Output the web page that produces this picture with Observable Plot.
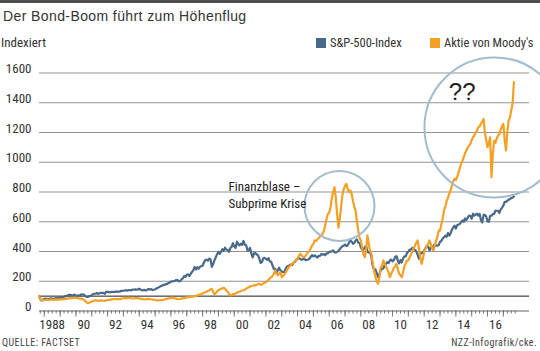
<!DOCTYPE html>
<html>
<head>
<meta charset="utf-8">
<script src="https://cdn.jsdelivr.net/npm/d3@7"></script>
<script src="https://cdn.jsdelivr.net/npm/@observablehq/plot@0.6"></script>
<style>
  html, body { margin: 0; padding: 0; background: #fff; }
  #wrap { position: relative; width: 540px; height: 351px; overflow: hidden;
          font-family: "Liberation Sans Narrow", "Roboto Condensed", "DejaVu Sans Condensed", sans-serif; color: #333; }
  #wrap svg { position: absolute; left: 0; top: 0; }
  .bar { position: absolute; left: 0; top: 0; width: 540px; height: 3px; background: #4e4e4e; }
  .title { position: absolute; left: 3px; top: 9px; font-family: "Liberation Sans", Arial, sans-serif;
           font-size: 14px; line-height: 14px; letter-spacing: 0.4px; color: #333; white-space: nowrap; }
  .sub { position: absolute; left: 1px; top: 36px; font-size: 13px; line-height: 14px; white-space: nowrap; }
  .legend { position: absolute; top: 36px; font-size: 12.5px; line-height: 14px; white-space: nowrap; display: flex; align-items: center; }
  .sw { display: inline-block; width: 10px; height: 10px; margin-right: 4px; }
  .foot { position: absolute; top: 337px; font-size: 10px; line-height: 12px; letter-spacing: 0.45px; color: #444; white-space: nowrap; }
</style>
</head>
<body>
<div id="wrap">
  <div class="bar"></div>
  <div class="title">Der Bond-Boom führt zum Höhenflug</div>
  <div class="sub">Indexiert</div>
  <div class="legend" id="leg1" style="left:316px"></div>
  <div class="legend" id="leg2" style="left:430px"></div>
  <div class="foot" style="left:2px">QUELLE: FACTSET</div>
  <div class="foot" style="right:3px">NZZ-Infografik/cke.</div>
</div>
<script>
// ---- data (monthly, indexed, starting September 1987) ----
const startYear = 1987;
const startMonth = 9;
const seriesNames = ["S&P-500-Index", "Aktie von Moody's"];
const seriesColors = ["#48698a", "#f4a024"];

const spx = [
  100, 78, 71, 77,                                   // 1987
  80, 83, 80, 81, 81, 85, 84, 81, 84, 87, 85, 86,    // 1988
  92, 90, 92, 96, 100, 99, 107, 109, 108, 106, 107, 110, // 1989
  102, 103, 106, 103, 112, 111, 111, 100, 95, 94, 100, 102, // 1990
  107, 114, 116, 116, 121, 115, 120, 123, 120, 122, 116, 130, // 1991
  127, 128, 125, 129, 129, 127, 132, 129, 130, 130, 134, 135, // 1992
  136, 138, 140, 137, 140, 140, 139, 144, 143, 145, 143, 145, // 1993
  150, 145, 139, 140, 142, 138, 142, 148, 144, 147, 141, 143, // 1994
  146, 151, 156, 160, 166, 169, 175, 175, 181, 181, 188, 191, // 1995
  198, 199, 200, 203, 208, 208, 199, 202, 213, 219, 235, 230, // 1996
  244, 246, 235, 249, 263, 275, 296, 279, 294, 284, 297, 301, // 1997
  304, 326, 342, 345, 339, 352, 348, 297, 316, 341, 361, 382, // 1998
  398, 384, 399, 415, 404, 426, 413, 410, 398, 423, 431, 456, // 1999
  433, 424, 466, 451, 441, 452, 444, 471, 446, 444, 408, 410, // 2000
  424, 385, 360, 388, 390, 380, 376, 352, 323, 329, 354, 357, // 2001
  351, 344, 356, 334, 331, 307, 283, 284, 253, 275, 291, 273, // 2002
  266, 261, 263, 285, 299, 303, 307, 313, 309, 326, 329, 345, // 2003
  351, 356, 350, 344, 348, 354, 342, 343, 346, 351, 365, 376, // 2004
  367, 374, 367, 359, 370, 370, 383, 379, 382, 375, 388, 388, // 2005
  398, 398, 402, 407, 394, 394, 397, 405, 415, 428, 435, 440, // 2006
  447, 437, 441, 460, 475, 467, 452, 458, 474, 481, 460, 456, // 2007
  428, 413, 411, 430, 435, 398, 393, 398, 362, 301, 278, 280, // 2008
  257, 228, 248, 271, 285, 285, 307, 317, 328, 322, 340, 346, // 2009
  334, 343, 363, 369, 338, 320, 342, 326, 354, 367, 367, 391, // 2010
  399, 412, 412, 424, 418, 410, 401, 379, 351, 389, 387, 391, // 2011
  407, 424, 437, 434, 407, 423, 428, 437, 448, 439, 440, 443, // 2012
  465, 470, 487, 496, 507, 499, 524, 507, 522, 546, 561, 574, // 2013
  554, 577, 581, 585, 598, 609, 600, 622, 612, 627, 642, 639, // 2014
  620, 654, 642, 648, 654, 641, 653, 612, 596, 646, 646, 635, // 2015
  602, 600, 640, 641, 651, 652, 675, 674, 673, 660, 683, 695, // 2016
  708, 734, 734, 740, 749, 752, 760, 762, 770                 // 2017
];

const moodys = [
  100, 80, 72, 75,                                   // 1987
  72, 74, 76, 74, 75, 78, 76, 74, 76, 78, 77, 76,    // 1988
  78, 80, 78, 80, 82, 81, 84, 86, 85, 86, 88, 90,    // 1989
  88, 86, 85, 82, 84, 80, 76, 68, 60, 52, 55, 60,    // 1990
  64, 68, 70, 72, 70, 68, 70, 72, 70, 69, 68, 72,    // 1991
  74, 76, 75, 78, 80, 79, 82, 80, 78, 80, 82, 84,    // 1992
  86, 88, 85, 87, 89, 88, 86, 84, 85, 87, 86, 85,    // 1993
  84, 82, 80, 81, 79, 78, 80, 82, 80, 79, 77, 76,    // 1994
  74, 72, 71, 72, 74, 73, 75, 77, 80, 82, 84, 86,    // 1995
  88, 90, 87, 85, 83, 80, 79, 81, 83, 85, 88, 90,    // 1996
  92, 94, 93, 96, 98, 97, 100, 102, 105, 108, 110, 114, // 1997
  118, 122, 126, 130, 134, 138, 145, 149, 130, 111, 120, 132, // 1998
  140, 145, 149, 152, 156, 150, 140, 128, 115, 104, 108, 112, // 1999
  115, 118, 122, 126, 130, 134, 138, 140, 145, 150, 155, 160, // 2000
  164, 168, 170, 174, 172, 176, 180, 183, 175, 178, 185, 190, // 2001
  195, 200, 210, 220, 228, 235, 250, 272, 255, 240, 250, 260, // 2002
  227, 235, 245, 260, 275, 290, 300, 310, 317, 325, 335, 340, // 2003
  350, 370, 385, 375, 365, 362, 370, 385, 395, 405, 420, 440, // 2004
  450, 474, 470, 480, 490, 500, 510, 519, 540, 580, 620, 653, // 2005
  660, 700, 760, 800, 832, 760, 650, 560, 620, 700, 780, 820, // 2006
  840, 855, 820, 800, 810, 788, 740, 700, 675, 600, 540, 490, // 2007
  474, 420, 380, 362, 420, 508, 450, 400, 385, 320, 272, 230, // 2008
  200, 183, 220, 295, 300, 340, 320, 300, 280, 260, 227, 250, // 2009
  270, 290, 300, 317, 280, 250, 240, 227, 260, 300, 320, 340, // 2010
  340, 362, 380, 400, 420, 440, 460, 474, 420, 360, 317, 350, // 2011
  400, 420, 440, 450, 474, 450, 420, 407, 440, 470, 500, 541, // 2012
  541, 580, 620, 675, 700, 740, 760, 788, 810, 840, 870, 890, // 2013
  880, 900, 930, 960, 990, 1010, 1034, 1060, 1080, 1100, 1110, 1124, // 2014
  1150, 1168, 1180, 1200, 1210, 1236, 1240, 1260, 1270, 1292, 1200, 1150, // 2015
  1101, 1130, 1168, 900, 1050, 1146, 1130, 1160, 1180, 1191, 1220, 1240, // 2016
  1258, 1150, 1079, 1200, 1281, 1300, 1350, 1393, 1538          // 2017
];

// axis ticks and labels
const yTicks = [0, 200, 400, 600, 800, 1000, 1200, 1400, 1600];
const labelYears = [1988, 1990, 1992, 1994, 1996, 1998, 2000, 2002, 2004, 2006, 2008, 2010, 2012, 2014, 2016];
const labelTexts = ["1988", "90", "92", "94", "96", "98", "00", "02", "04", "06", "08", "10", "12", "14", "16"];
const firstTickYear = 1988, lastTickYear = 2017;

// annotations
const noteTexts = ["Finanzblase –\nSubprime Krise", "??"];
const noteYears = [1999.64, 2014.4];
const noteValues = [788, 1471];
const circleYears = [2006.65, 2016.44];
const circleValues = [706, 1234];
const circleRadii = [35, 70];

// ---- build ----
const toTime = i => startYear + (startMonth - 1 + i) / 12;
const spxData = spx.map((v, i) => ({t: toTime(i), v}));
const moodysData = moodys.map((v, i) => ({t: toTime(i), v}));
const yearTicks = d3.range(firstTickYear, lastTickYear + 1);
const quarterTicks = d3.range((firstTickYear - 1) * 4 + 3, lastTickYear * 4 + 4).map(q => q / 4);
const labelPos = labelYears.map(y => y + 0.5);
const labelMap = new Map(labelPos.map((p, i) => [p, labelTexts[i]]));
const font = '"Liberation Sans Narrow", "Roboto Condensed", "DejaVu Sans Condensed", sans-serif';

const chart = Plot.plot({
  width: 540,
  height: 351,
  marginLeft: 39,
  marginRight: 11,
  marginTop: 72.5,
  marginBottom: 40.5,
  style: {fontFamily: font, background: "transparent", overflow: "visible"},
  x: {type: "linear", domain: [1987.698, 2018.652]},
  y: {domain: [0, 1600]},
  r: {type: "identity"},
  marks: [
    Plot.ruleY(yTicks.filter(d => d > 0), {stroke: "#939393", strokeWidth: 1}),
    Plot.axisY(yTicks, {tickSize: 0, tickPadding: 8, dy: -4, fontSize: 13, fill: "#333", label: null,
                        tickFormat: d => String(d)}),
    Plot.axisX(quarterTicks, {tickSize: 3, stroke: "#777", tickFormat: () => "", label: null}),
    Plot.axisX(yearTicks, {tickSize: 6, stroke: "#777", tickFormat: () => "", label: null}),
    Plot.axisX(labelPos, {tickSize: 0, tickPadding: 9, fontSize: 13, fill: "#333",
                          tickFormat: d => labelMap.get(d), label: null}),
    Plot.ruleY([0], {stroke: "#666", strokeWidth: 1}),
    Plot.ruleY([100], {stroke: "#1a1a1a", strokeWidth: 1}),
    Plot.line(spxData, {x: "t", y: "v", stroke: seriesColors[0], strokeWidth: 2.2, strokeLinejoin: "round"}),
    Plot.line(moodysData, {x: "t", y: "v", stroke: seriesColors[1], strokeWidth: 2.2, strokeLinejoin: "round"}),
    Plot.dot(circleYears, {x: d => d, y: (d, i) => circleValues[i], r: (d, i) => circleRadii[i],
                           stroke: "#a2bccd", strokeWidth: 2, fill: "none"}),
    Plot.text([noteTexts[0]], {x: noteYears[0], y: noteValues[0], text: d => d, textAnchor: "start",
                               lineHeight: 1.3, fontSize: 13, fill: "#222"}),
    Plot.text([noteTexts[1]], {x: noteYears[1], y: noteValues[1], text: d => d,
                               fontSize: 24, fill: "#222", fontFamily: "Liberation Sans, Arial, sans-serif"})
  ]
});
document.getElementById("wrap").insertBefore(chart, document.getElementById("wrap").firstChild);

// legend
[["leg1", 0], ["leg2", 1]].forEach(([id, k]) => {
  const el = document.getElementById(id);
  const sw = document.createElement("span");
  sw.className = "sw";
  sw.style.background = seriesColors[k];
  el.appendChild(sw);
  el.appendChild(document.createTextNode(seriesNames[k]));
});
</script>
</body>
</html>
